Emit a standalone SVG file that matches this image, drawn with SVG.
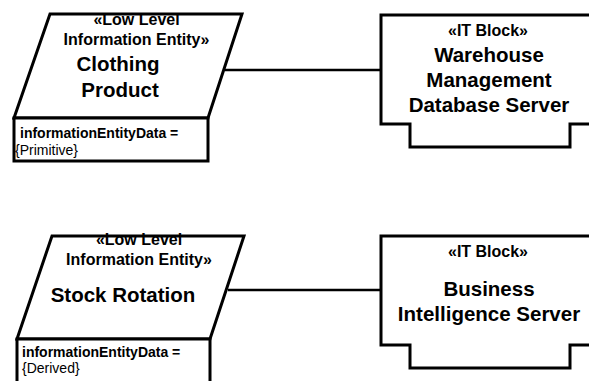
<svg xmlns="http://www.w3.org/2000/svg" width="589" height="381" viewBox="0 0 589 381">
  <style>
    .shape { fill: #ffffff; stroke: #000000; stroke-width: 3; stroke-linejoin: miter; }
    .conn { fill: none; stroke: #000000; stroke-width: 2.5; }
    text { font-family: "Liberation Sans", Arial, sans-serif; fill: #000000; }
    .stereo { font-size: 16px; font-weight: bold; text-anchor: middle; }
    .name { font-size: 20.5px; font-weight: bold; text-anchor: middle; }
    .attr { font-size: 14px; font-weight: bold; }
    .val { font-size: 14px; font-weight: normal; }
  </style>

  <!-- connectors -->
  <g id="connectors">
    <line class="conn" x1="225" y1="70" x2="381" y2="70"/>
    <line class="conn" x1="228" y1="290" x2="381" y2="290"/>
  </g>

  <!-- information entity: Clothing Product -->
  <g id="clothing-product">
    <polygon class="shape" points="50,14 242,14 208,118 14,118"/>
    <rect class="shape" x="14" y="118" width="194" height="43"/>
    <text class="stereo" x="136.5" y="25">«Low Level</text>
    <text class="stereo" x="136.5" y="45">Information Entity»</text>
    <text class="name" x="118" y="71">Clothing</text>
    <text class="name" x="120" y="97">Product</text>
    <text class="attr" x="20" y="138">informationEntityData =</text>
    <text class="val" x="15" y="155">{Primitive}</text>
  </g>

  <!-- IT block: Warehouse Management Database Server -->
  <g id="warehouse-db-server">
    <path class="shape" d="M600,15 H381 V124 H410 V147 H570 V124 H600"/>
    <text class="stereo" x="488" y="36">«IT Block»</text>
    <text class="name" x="489" y="62">Warehouse</text>
    <text class="name" x="489" y="87">Management</text>
    <text class="name" x="489" y="111.5">Database Server</text>
  </g>

  <!-- information entity: Stock Rotation -->
  <g id="stock-rotation">
    <polygon class="shape" points="52,236 244,236 210,339 17,339"/>
    <rect class="shape" x="17" y="339" width="193" height="50"/>
    <text class="stereo" x="139" y="245">«Low Level</text>
    <text class="stereo" x="139" y="265">Information Entity»</text>
    <text class="name" x="123" y="302">Stock Rotation</text>
    <text class="attr" x="22" y="357">informationEntityData =</text>
    <text class="val" x="22" y="373">{Derived}</text>
  </g>

  <!-- IT block: Business Intelligence Server -->
  <g id="business-intelligence-server">
    <path class="shape" d="M600,236 H381 V345 H410 V368 H570 V345 H600"/>
    <text class="stereo" x="488" y="257">«IT Block»</text>
    <text class="name" x="489" y="296">Business</text>
    <text class="name" x="489" y="321">Intelligence Server</text>
  </g>
</svg>
